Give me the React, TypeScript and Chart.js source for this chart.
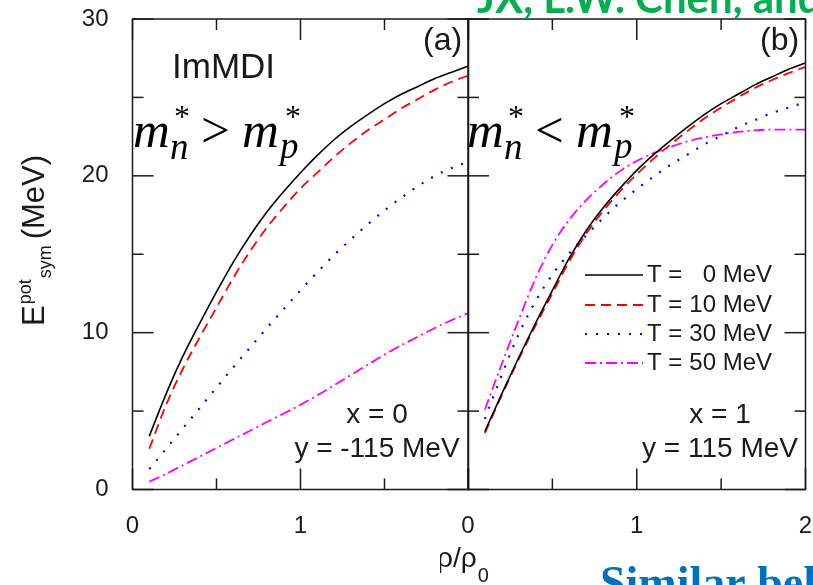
import { useEffect, useRef } from "react";
import { Chart, registerables } from "chart.js";
import type { Plugin } from "chart.js";

Chart.register(...registerables);

const SANS = '"Liberation Sans", Arial, Helvetica, sans-serif';
const SERIF = '"Liberation Serif", "Times New Roman", serif';

// Reduced density rho/rho0 at which the curves are sampled
const densities = [0.1, 0.2, 0.3, 0.4, 0.5, 0.6, 0.7, 0.8, 0.9, 1.0, 1.1, 1.2, 1.3, 1.4, 1.5, 1.6, 1.7, 1.8, 1.9, 2.0];

// Temperatures of the four curves (MeV)
const temperatures = [0, 10, 30, 50];

// Panel (a): x = 0, y = -115 MeV — potential symmetry energy (MeV)
const panelA_T0 = [3.4, 6.1, 8.5, 10.6, 12.6, 14.5, 16.2, 17.7, 19.0, 20.2, 21.3, 22.3, 23.15, 23.9, 24.6, 25.2, 25.7, 26.2, 26.6, 27.0];
const panelA_T10 = [2.6, 5.4, 7.7, 9.7, 11.6, 13.5, 15.2, 16.7, 18.0, 19.2, 20.2, 21.2, 22.1, 22.9, 23.6, 24.3, 24.9, 25.5, 26.0, 26.4];
const panelA_T30 = [1.3, 2.6, 3.9, 5.2, 6.5, 7.8, 9.05, 10.3, 11.5, 12.7, 13.85, 14.95, 15.95, 16.9, 17.8, 18.6, 19.35, 20.0, 20.5, 20.9];
const panelA_T50 = [0.5, 1.0, 1.55, 2.1, 2.65, 3.2, 3.75, 4.3, 4.85, 5.4, 6.0, 6.65, 7.3, 7.95, 8.6, 9.2, 9.75, 10.3, 10.8, 11.25];

// Panel (b): x = 1, y = 115 MeV
const panelB_T0 = [3.7, 6.1, 8.4, 10.6, 12.7, 14.75, 16.5, 17.95, 19.2, 20.35, 21.35, 22.25, 23.1, 23.9, 24.6, 25.2, 25.8, 26.3, 26.8, 27.2];
const panelB_T10 = [3.6, 6.0, 8.3, 10.45, 12.5, 14.55, 16.3, 17.75, 19.0, 20.1, 21.1, 22.0, 22.85, 23.65, 24.35, 25.0, 25.6, 26.1, 26.55, 26.95];
const panelB_T30 = [4.5, 7.3, 9.9, 12.0, 13.7, 15.05, 16.2, 17.3, 18.3, 19.15, 19.95, 20.7, 21.35, 22.0, 22.55, 23.1, 23.55, 24.0, 24.35, 24.7];
const panelB_T50 = [5.1, 8.0, 10.8, 13.45, 15.6, 17.2, 18.45, 19.45, 20.3, 20.95, 21.45, 21.85, 22.2, 22.45, 22.65, 22.8, 22.9, 22.95, 22.95, 22.95];

// Axis ticks
const yMajorTicks = [0, 10, 20, 30];
const yMinorTicks = [5, 15, 25];
const xMajorTicks = [0, 1, 2];
const xMinorTicks = [0.5, 1.5];
const xTickLabelsA = [0, 1];
const xTickLabelsB = [0, 1, 2];

const curveStyles = [
  { color: "#000000", dash: [] as number[], width: 1.6 },
  { color: "#ff0000", dash: [10, 6], width: 1.8 },
  { color: "#0000ff", dash: [2, 9], width: 2.2 },
  { color: "#ff00ff", dash: [11, 4, 2, 4], width: 1.8 },
];

function buildDatasets(series: number[][]) {
  return series.map((vals, i) => ({
    label: `T = ${temperatures[i]} MeV`,
    data: densities.map((x, j) => ({ x, y: vals[j] })),
    borderColor: curveStyles[i].color,
    borderDash: curveStyles[i].dash,
    borderWidth: curveStyles[i].width,
    borderCapStyle: "butt" as const,
    pointRadius: 0,
    fill: false,
    cubicInterpolationMode: "monotone" as const,
  }));
}

function drawFrame(chart: Chart, xLabels: number[], showY: boolean) {
  const { ctx, chartArea: ca } = chart;
  const xs = chart.scales.x;
  const ys = chart.scales.y;
  ctx.save();
  ctx.setLineDash([]);
  ctx.strokeStyle = "#1a1a1a";
  ctx.lineWidth = 1.5;
  ctx.strokeRect(ca.left, ca.top, ca.right - ca.left, ca.bottom - ca.top);

  const tick = (x1: number, y1: number, x2: number, y2: number) => {
    ctx.beginPath();
    ctx.moveTo(x1, y1);
    ctx.lineTo(x2, y2);
    ctx.stroke();
  };
  const major = 21;
  const minor = 11;
  yMajorTicks.forEach((v) => {
    const py = ys.getPixelForValue(v);
    tick(ca.left, py, ca.left + major, py);
    tick(ca.right - major, py, ca.right, py);
  });
  yMinorTicks.forEach((v) => {
    const py = ys.getPixelForValue(v);
    tick(ca.left, py, ca.left + minor, py);
    tick(ca.right - minor, py, ca.right, py);
  });
  xMajorTicks.forEach((v) => {
    const px = xs.getPixelForValue(v);
    tick(px, ca.bottom, px, ca.bottom - major);
    tick(px, ca.top, px, ca.top + major);
  });
  xMinorTicks.forEach((v) => {
    const px = xs.getPixelForValue(v);
    tick(px, ca.bottom, px, ca.bottom - minor);
    tick(px, ca.top, px, ca.top + minor);
  });

  ctx.fillStyle = "#1a1a1a";
  ctx.font = `24px ${SANS}`;
  ctx.textBaseline = "middle";
  ctx.textAlign = "center";
  xLabels.forEach((v) => {
    ctx.fillText(String(v), xs.getPixelForValue(v), ca.bottom + 37);
  });
  if (showY) {
    ctx.textAlign = "right";
    yMajorTicks.forEach((v) => {
      ctx.fillText(String(v), ca.left - 24, ys.getPixelForValue(v));
    });
  }
  ctx.restore();
}

// m*_n > m*_p style relation, drawn piece by piece
function drawMassRelation(ctx: CanvasRenderingContext2D, left: number, rel: string) {
  ctx.save();
  ctx.fillStyle = "#000";
  ctx.textAlign = "left";
  ctx.textBaseline = "alphabetic";
  const base = 147;
  ctx.font = `italic 51px ${SERIF}`;
  ctx.fillText("m", left, base);
  ctx.font = `32px ${SERIF}`;
  ctx.fillText("*", left + 41, base - 20);
  ctx.font = `italic 37px ${SERIF}`;
  ctx.fillText("n", left + 37, base + 12);
  ctx.font = `51px ${SERIF}`;
  ctx.fillText(rel, left + 68, base);
  ctx.font = `italic 51px ${SERIF}`;
  ctx.fillText("m", left + 109, base);
  ctx.font = `32px ${SERIF}`;
  ctx.fillText("*", left + 152, base - 20);
  ctx.font = `italic 37px ${SERIF}`;
  ctx.fillText("p", left + 147, base + 11);
  ctx.restore();
}

function drawCentered(ctx: CanvasRenderingContext2D, lines: string[], cx: number, baselines: number[]) {
  ctx.save();
  ctx.fillStyle = "#1a1a1a";
  ctx.font = `28px ${SANS}`;
  ctx.textAlign = "center";
  ctx.textBaseline = "alphabetic";
  lines.forEach((t, i) => ctx.fillText(t, cx, baselines[i]));
  ctx.restore();
}

const panelAPlugin: Plugin = {
  id: "panelA",
  afterDatasetsDraw(chart) {
    const ctx = chart.ctx;
    drawFrame(chart as Chart, xTickLabelsA, true);
    ctx.save();
    ctx.fillStyle = "#1a1a1a";
    ctx.textBaseline = "alphabetic";
    ctx.textAlign = "left";
    ctx.font = `35px ${SANS}`;
    ctx.fillText("ImMDI", 172, 78);
    ctx.font = `32px ${SANS}`;
    ctx.fillText("(a)", 423, 50);

    // y-axis title: E^pot_sym (MeV)
    ctx.translate(44, 326);
    ctx.rotate(-Math.PI / 2);
    ctx.font = `31px ${SANS}`;
    ctx.fillText("E", 0, 0);
    const wE = ctx.measureText("E").width;
    ctx.font = `18px ${SANS}`;
    ctx.fillText("pot", wE + 1, -13);
    const wPot = ctx.measureText("pot").width;
    ctx.fillText("sym", wE + wPot + 2, 7);
    const wSym = ctx.measureText("sym").width;
    ctx.font = `31px ${SANS}`;
    ctx.fillText("(MeV)", wE + wPot + wSym + 8, 0);
    ctx.restore();

    drawMassRelation(ctx, 133, ">");
    drawCentered(ctx, ["x = 0", "y = -115 MeV"], 377, [423, 457]);
  },
};

const panelBPlugin: Plugin = {
  id: "panelB",
  afterDatasetsDraw(chart) {
    const ctx = chart.ctx;
    drawFrame(chart as Chart, xTickLabelsB, false);
    // canvas for panel (b) starts 440px from the page's left edge
    const ox = -440;
    ctx.save();
    ctx.translate(ox, 0);
    ctx.fillStyle = "#1a1a1a";
    ctx.textBaseline = "alphabetic";
    ctx.textAlign = "left";
    ctx.font = `32px ${SANS}`;
    ctx.fillText("(b)", 760, 50);

    // x-axis title, centred under both panels
    ctx.font = `28px ${SANS}`;
    ctx.fillText("\u03C1/\u03C1", 437, 567);
    const w = ctx.measureText("\u03C1/\u03C1").width;
    ctx.font = `20px ${SANS}`;
    ctx.fillText("0", 437 + w + 1, 582);

    // legend
    const rows = [275, 305, 334, 363];
    temperatures.forEach((t, i) => {
      const st = curveStyles[i];
      ctx.save();
      ctx.strokeStyle = st.color;
      ctx.lineWidth = st.width;
      ctx.setLineDash(st.dash);
      ctx.beginPath();
      ctx.moveTo(585, rows[i]);
      ctx.lineTo(643, rows[i]);
      ctx.stroke();
      ctx.restore();
      ctx.font = `24px ${SANS}`;
      ctx.textBaseline = "middle";
      ctx.textAlign = "left";
      ctx.fillText("T =", 647, rows[i]);
      ctx.textAlign = "right";
      ctx.fillText(`${t} MeV`, 772, rows[i]);
    });

    // slide overlays
    ctx.textBaseline = "alphabetic";
    ctx.textAlign = "left";
    ctx.fillStyle = "#00b050";
    ctx.font = `bold 42px Lato, "Open Sans", sans-serif`;
    ctx.fillText("JX, L.W. Chen, and", 477, 13);
    ctx.fillStyle = "#0070c0";
    ctx.font = `bold 46px ${SERIF}`;
    ctx.fillText("Similar behavior", 600, 598);
    ctx.restore();

    ctx.save();
    ctx.translate(ox, 0);
    drawMassRelation(ctx, 467, "<");
    drawCentered(ctx, ["x = 1", "y = 115 MeV"], 720, [423, 457]);
    ctx.restore();
  },
};

function Panel(props: {
  series: number[][];
  left: number;
  width: number;
  padding: { left: number; right: number; top: number; bottom: number };
  plugin: Plugin;
}) {
  const ref = useRef<HTMLCanvasElement>(null);
  useEffect(() => {
    const canvas = ref.current;
    if (!canvas) return;
    const chart = new Chart(canvas, {
      type: "line",
      data: { datasets: buildDatasets(props.series) as any },
      options: {
        animation: false,
        responsive: false,
        devicePixelRatio: 1,
        events: [],
        layout: { padding: props.padding },
        scales: {
          x: { type: "linear", min: 0, max: 2, display: false },
          y: { type: "linear", min: 0, max: 30, display: false },
        },
        plugins: { legend: { display: false }, tooltip: { enabled: false } },
      },
      plugins: [props.plugin],
    });
    return () => chart.destroy();
  }, []);
  return (
    <canvas
      ref={ref}
      width={props.width}
      height={585}
      style={{ position: "absolute", left: props.left, top: 0, width: props.width, height: 585 }}
    />
  );
}

export default function App() {
  return (
    <div style={{ position: "absolute", left: 0, top: 0, width: 813, height: 585, background: "#fff", overflow: "hidden" }}>
      <Panel
        series={[panelA_T0, panelA_T10, panelA_T30, panelA_T50]}
        left={0}
        width={470}
        padding={{ left: 132.5, right: 1.5, top: 19, bottom: 95.5 }}
        plugin={panelAPlugin}
      />
      <Panel
        series={[panelB_T0, panelB_T10, panelB_T30, panelB_T50]}
        left={440}
        width={373}
        padding={{ left: 28, right: 7.5, top: 19, bottom: 95.5 }}
        plugin={panelBPlugin}
      />
    </div>
  );
}
